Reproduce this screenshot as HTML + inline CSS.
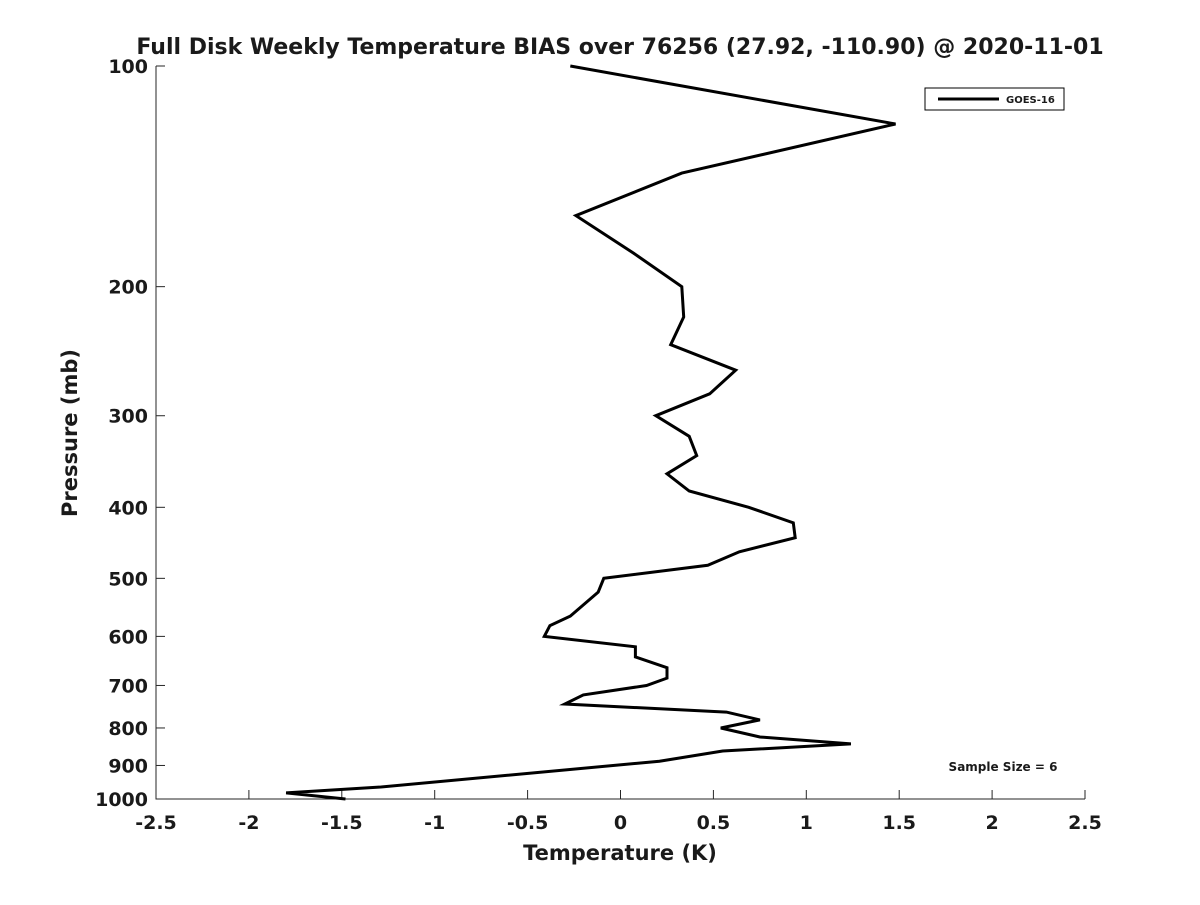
<!DOCTYPE html>
<html><head><meta charset="utf-8"><style>
body{margin:0;background:#fff;}
svg text{font-family:"DejaVu Sans","Liberation Sans",sans-serif;font-weight:bold;fill:#1a1a1a;}
</style></head><body>
<svg id="chart" width="1200" height="900" viewBox="0 0 1200 900" xmlns="http://www.w3.org/2000/svg">
<rect width="1200" height="900" fill="#fff"/>
<text x="620" y="54" font-size="22" text-anchor="middle">Full Disk Weekly Temperature BIAS over 76256 (27.92, -110.90) @ 2020-11-01</text>
<g id="axes"></g>
<text x="620" y="860" font-size="21" text-anchor="middle">Temperature (K)</text>
<text transform="translate(77,433) rotate(-90)" font-size="21" text-anchor="middle">Pressure (mb)</text>
<g>
<rect x="925" y="88" width="139" height="22" fill="#fff" stroke="#000" stroke-width="1"/>
<line x1="938" y1="99" x2="999" y2="99" stroke="#000" stroke-width="3"/>
<text x="1006" y="103" font-size="10">GOES-16</text>
</g>
<text x="1003" y="771" font-size="12" text-anchor="middle">Sample Size = 6</text>
</svg>
<script>
const xTicks=[-2.5,-2,-1.5,-1,-0.5,0,0.5,1,1.5,2,2.5];
const xTickLabels=["-2.5","-2","-1.5","-1","-0.5","0","0.5","1","1.5","2","2.5"];
const yTicks=[100,200,300,400,500,600,700,800,900,1000];
const pressures=[100,120,140,160,180,200,220,240,260,280,300,320,340,360,380,400,420,440,460,480,500,522,563,580,600,620,640,662,684,700,721,742,761,780,800,823,841,860,888,963,981,1000];
const bias=[-0.27,1.48,0.33,-0.24,0.07,0.33,0.34,0.27,0.62,0.48,0.19,0.37,0.41,0.25,0.37,0.69,0.93,0.94,0.64,0.47,-0.09,-0.12,-0.27,-0.38,-0.41,0.08,0.08,0.25,0.25,0.14,-0.20,-0.30,0.57,0.75,0.54,0.75,1.24,0.55,0.21,-1.29,-1.80,-1.48];
const X0=156,X1=1085,Y0=66,Y1=799;
const xs=v=>X0+(v+2.5)/5*(X1-X0);
const ys=p=>Y0+Math.log10(p/100)*(Y1-Y0);
const NS="http://www.w3.org/2000/svg";
const svg=document.getElementById('chart');
const g=document.getElementById('axes');
function mk(t,a,p){const e=document.createElementNS(NS,t);for(const k in a)e.setAttribute(k,a[k]);(p||g).appendChild(e);return e;}
const ax=mk('path',{d:`M${X0},${Y0}V${Y1}H${X1}`,fill:'none',stroke:'#262626','stroke-width':1});


xTicks.forEach((v,i)=>{
 const tl=mk('line',{x1:xs(v),x2:xs(v),y1:Y1,y2:Y1-9,stroke:'#262626'});
 
 
 const t=mk('text',{x:xs(v),y:Y1+30,'font-size':19,'text-anchor':'middle'});
 t.textContent=xTickLabels[i];
 
 
});
yTicks.forEach(p=>{
 const tl=mk('line',{x1:X0,x2:X0+9,y1:ys(p),y2:ys(p),stroke:'#262626'});
 
 
 const t=mk('text',{x:X0-8,y:ys(p)+7,'font-size':19,'text-anchor':'end'});
 t.textContent=String(p);
 
 
});
const line=mk('polyline',{points:pressures.map((p,i)=>xs(bias[i]).toFixed(1)+','+ys(p).toFixed(1)).join(' '),fill:'none',stroke:'#000','stroke-width':3,'stroke-linejoin':'miter'});


</script>
</body></html>
